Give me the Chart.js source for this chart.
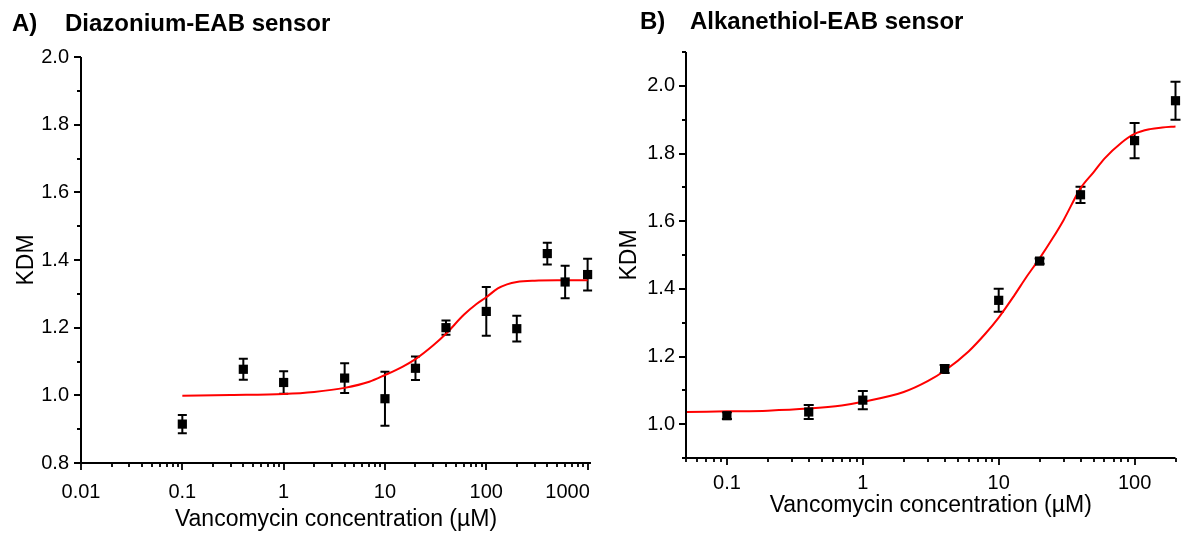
<!DOCTYPE html>
<html><head><meta charset="utf-8">
<script src="https://cdn.jsdelivr.net/npm/chart.js@4.4.1/dist/chart.umd.min.js"></script>
<style>
html,body{margin:0;padding:0;background:#fff;width:1182px;height:533px;overflow:hidden;position:relative;font-family:'Liberation Sans',Arial,sans-serif;}
.box{position:absolute;top:0;height:533px;}
.t{position:absolute;font-weight:bold;font-size:24px;line-height:24px;color:#000;white-space:nowrap;}
</style></head><body>
<div class="box" style="left:0;width:640px"><canvas id="cA" width="640" height="533"></canvas></div>
<div class="box" style="left:600px;width:582px"><canvas id="cB" width="582" height="533"></canvas></div>
<div class="t" style="left:12px;top:11px">A)</div>
<div class="t" style="left:65px;top:11px">Diazonium-EAB sensor</div>
<div class="t" style="left:640px;top:9px">B)</div>
<div class="t" style="left:690px;top:9px">Alkanethiol-EAB sensor</div>
<script>
// ---- Panel A data ----
const concA = [0.1, 0.4, 1, 4, 10, 20, 40, 100, 200, 400, 600, 1000];
const kdmA  = [0.915, 1.077, 1.038, 1.051, 0.990, 1.080, 1.200, 1.248, 1.197, 1.419, 1.335, 1.357];
const errA  = [0.027, 0.031, 0.033, 0.044, 0.080, 0.035, 0.021, 0.072, 0.038, 0.032, 0.048, 0.047];
const fitConcA = [0.1, 0.3, 1, 2, 4, 7, 10, 15, 20, 30, 40, 60, 80, 100, 130, 160, 200, 300, 500, 1000];
const fitKdmA  = [0.999, 1.001, 1.004, 1.010, 1.022, 1.040, 1.060, 1.085, 1.107, 1.148, 1.182, 1.238, 1.270, 1.290, 1.316, 1.328, 1.335, 1.339, 1.340, 1.340];
const xTicksA = [0.01, 0.1, 1, 10, 100, 1000];
const xLabelsA = ['0.01', '0.1', '1', '10', '100', '1000\u2002\u2002\u2002\u2002'];
const yTicksA = [0.8, 1.0, 1.2, 1.4, 1.6, 1.8, 2.0];

// ---- Panel B data ----
const concB = [0.1, 0.4, 1, 4, 10, 20, 40, 100, 200];
const kdmB  = [1.025, 1.036, 1.071, 1.163, 1.366, 1.482, 1.678, 1.838, 1.956];
const errB  = [0.010, 0.021, 0.027, 0.012, 0.034, 0.008, 0.024, 0.052, 0.056];
const fitConcB = [0.05, 0.1, 0.2, 0.4, 0.7, 1, 2, 3, 4, 6, 8, 10, 13, 16, 20, 25, 30, 40, 50, 60, 80, 100, 130, 160, 200];
const fitKdmB  = [1.036, 1.038, 1.040, 1.046, 1.055, 1.066, 1.095, 1.127, 1.158, 1.215, 1.268, 1.315, 1.380, 1.435, 1.490, 1.550, 1.603, 1.697, 1.745, 1.785, 1.832, 1.858, 1.872, 1.877, 1.880];
const xTicksB = [0.1, 1, 10, 100];
const xLabelsB = ['0.1', '1', '10', '100'];
const yTicksB = [1.0, 1.2, 1.4, 1.6, 1.8, 2.0];

const FONT = "'Liberation Sans', Arial, sans-serif";
Chart.defaults.font.family = FONT;
Chart.defaults.color = '#000';

const framePlugin = {
  id: 'frame',
  beforeDatasetsDraw(chart, args, o) {
    const {ctx, scales: {x, y}} = chart;
    ctx.save();
    ctx.strokeStyle = '#000';
    ctx.lineWidth = 2;
    o.xs.forEach((v, i) => {
      const px = x.getPixelForValue(v);
      const t = y.getPixelForValue(o.ys[i] + o.es[i]);
      const b = y.getPixelForValue(o.ys[i] - o.es[i]);
      ctx.beginPath();
      ctx.moveTo(px, t); ctx.lineTo(px, b);
      ctx.moveTo(px - o.cap, t); ctx.lineTo(px + o.cap, t);
      ctx.moveTo(px - o.cap, b); ctx.lineTo(px + o.cap, b);
      ctx.stroke();
    });
    ctx.restore();
  },
  afterDraw(chart, args, o) {
    const {ctx, chartArea: ca, scales: {x, y}} = chart;
    ctx.save();
    ctx.strokeStyle = '#000';
    ctx.lineWidth = 2;
    ctx.beginPath();
    ctx.moveTo(ca.left, ca.top); ctx.lineTo(ca.left, ca.bottom + 1);
    ctx.moveTo(ca.left - 1, ca.bottom); ctx.lineTo(ca.right, ca.bottom);
    ctx.stroke();
    ctx.lineWidth = 1.8;
    ctx.beginPath();
    const n0 = Math.round(y.min * 10), n1 = Math.round(y.max * 10);
    for (let n = n0; n <= n1; n++) {
      const v = n / 10;
      const py = Math.round(y.getPixelForValue(v));
      const major = o.yMajor.some(m => Math.abs(m - v) < 1e-6);
      const len = major ? 7 : 4;
      ctx.moveTo(ca.left, py); ctx.lineTo(ca.left - len, py);
    }
    const d0 = Math.floor(Math.log10(x.min) - 1e-9), d1 = Math.ceil(Math.log10(x.max));
    for (let d = d0; d <= d1; d++) {
      for (let k = 1; k <= 9; k++) {
        const v = k * Math.pow(10, d);
        if (v < x.min * 0.999 || v > x.max * 1.001) continue;
        const px = Math.round(x.getPixelForValue(v));
        const len = k === 1 ? 7 : 4;
        ctx.moveTo(px, ca.bottom); ctx.lineTo(px, ca.bottom + len);
      }
    }
    ctx.stroke();
    ctx.restore();
  }
};

function makeChart(id, cfg) {
  const pts = cfg.conc.map((c, i) => ({x: c, y: cfg.kdm[i]}));
  const fit = cfg.fitConc.map((c, i) => ({x: c, y: cfg.fitKdm[i]}));
  return new Chart(document.getElementById(id), {
    type: 'scatter',
    data: {
      datasets: [
        {data: pts, pointStyle: 'rect', pointRadius: cfg.r, pointHoverRadius: cfg.r,
         backgroundColor: '#000', borderColor: '#000', borderWidth: 0, order: 0, clip: false},
        {data: fit, showLine: true, pointRadius: 0, borderColor: '#ff0000', borderWidth: 2,
         cubicInterpolationMode: 'monotone', fill: false, order: 1, clip: false}
      ]
    },
    options: {
      responsive: false,
      animation: false,
      events: [],
      layout: {padding: {top: cfg.top, right: cfg.right, left: 0, bottom: 0}},
      plugins: {
        legend: {display: false}, tooltip: {enabled: false},
        frame: {xs: cfg.conc, ys: cfg.kdm, es: cfg.err, cap: cfg.cap, yMajor: cfg.yTicks}
      },
      scales: {
        x: {
          type: 'logarithmic', min: cfg.xmin, max: cfg.xmax,
          grid: {display: false}, border: {display: false},
          afterBuildTicks: s => { s.ticks = cfg.xTicks.map(v => ({value: v})); },
          afterFit: s => { s.height = cfg.xh; },
          ticks: {padding: cfg.xpad, font: {size: 20}, maxRotation: 0, autoSkip: false,
                  callback: v => { const i = cfg.xTicks.findIndex(t => Math.abs(t - v) / t < 1e-6); return i >= 0 ? cfg.xLabels[i] : ''; }},
          title: {display: true, text: 'Vancomycin concentration (\u00b5M)', font: {size: 23}, padding: {top: 0, bottom: cfg.xtp}}
        },
        y: {
          min: cfg.ymin, max: cfg.ymax,
          grid: {display: false}, border: {display: false},
          afterBuildTicks: s => { s.ticks = cfg.yTicks.map(v => ({value: v})); },
          afterFit: s => { s.width = cfg.yw; },
          ticks: {padding: cfg.ypad, font: {size: 20}, callback: v => Number(v).toFixed(1)},
          title: {display: true, text: 'KDM', font: {size: 23}, padding: {top: cfg.ytp, bottom: 0}}
        }
      }
    },
    plugins: [framePlugin]
  });
}

makeChart('cA', {conc: concA, kdm: kdmA, err: errA, fitConc: fitConcA, fitKdm: fitKdmA,
  xTicks: xTicksA, xLabels: xLabelsA, yTicks: yTicksA,
  xmin: 0.01, xmax: 1080, ymin: 0.8, ymax: 2.0,
  top: 57, right: 49, xh: 70, yw: 81, xtp: 0, ytp: 13, xpad: 9, ypad: 4, r: 6.5, cap: 4.5});

makeChart('cB', {conc: concB, kdm: kdmB, err: errB, fitConc: fitConcB, fitKdm: fitKdmB,
  xTicks: xTicksB, xLabels: xLabelsB, yTicks: yTicksB,
  xmin: 0.05, xmax: 200, ymin: 0.9, ymax: 2.1,
  top: 52, right: 0, xh: 75, yw: 86, xtp: 14, ytp: 16, xpad: 5, ypad: 3, r: 6.5, cap: 5});
</script>
</body></html>
